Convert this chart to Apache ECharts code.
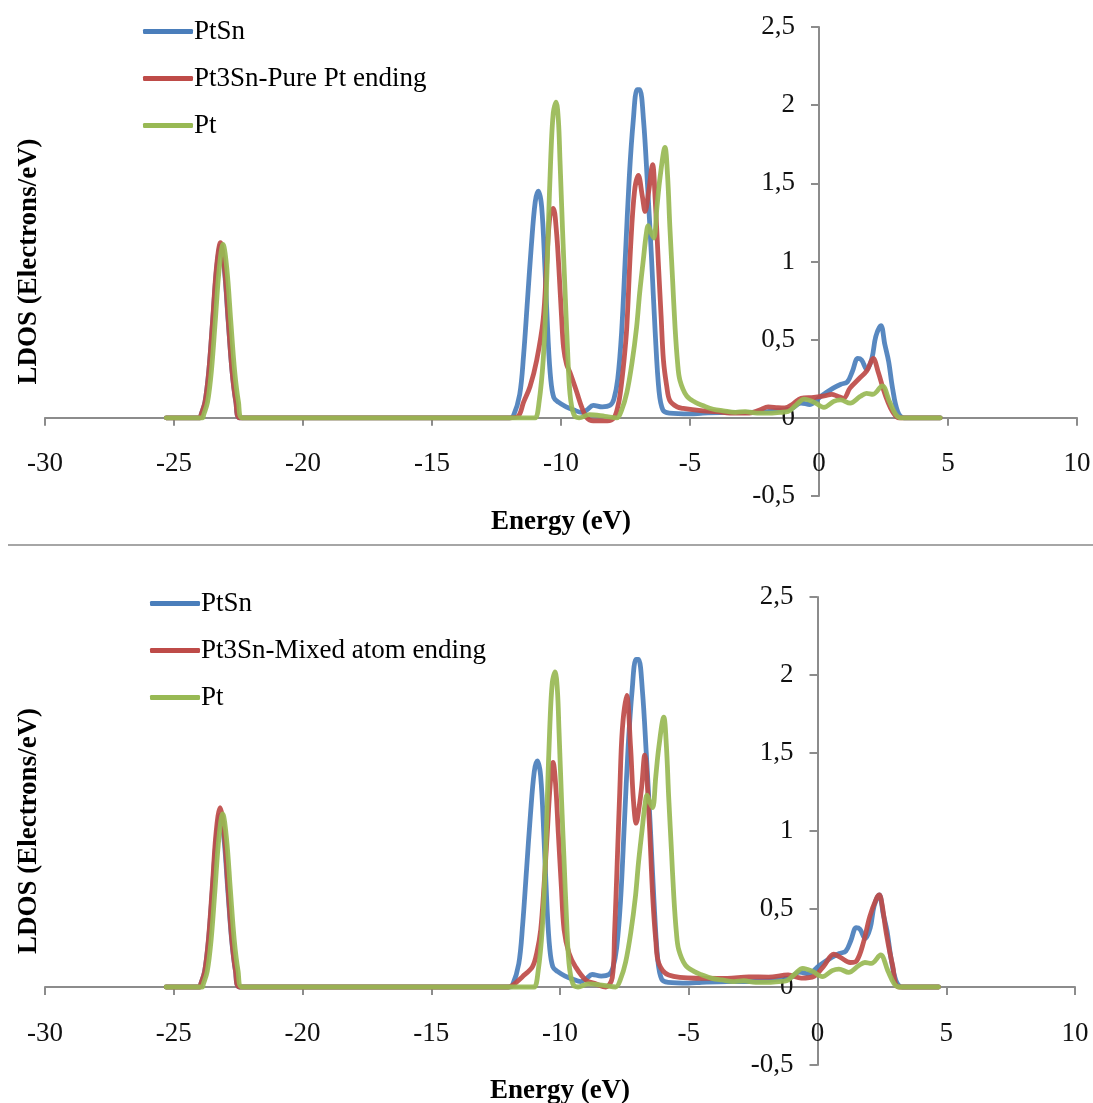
<!DOCTYPE html>
<html>
<head>
<meta charset="utf-8">
<title>LDOS PtSn / Pt3Sn / Pt</title>
<script src="https://cdn.jsdelivr.net/npm/echarts@6/dist/echarts.min.js"></script>
<style>
  html, body { margin: 0; padding: 0; background: #ffffff; }
  #chart { width: 1093px; height: 1103px; }
</style>
</head>
<body>
<div id="chart"></div>
<script>
// ---- Data: [energy (eV), LDOS (electrons/eV)] ----

// PtSn (same curve in both panels)
const ptsn = [
  [-25.3, 0], [-24.0, 0], [-23.95, 0.02], [-23.8, 0.1], [-23.65, 0.3], [-23.5, 0.62], [-23.35, 0.95],
  [-23.2, 1.1], [-23.05, 0.95], [-22.9, 0.62], [-22.75, 0.3], [-22.6, 0.1], [-22.45, 0.0],
  [-12.0, 0], [-11.85, 0.01], [-11.6, 0.15], [-11.45, 0.4], [-11.3, 0.75], [-11.15, 1.1],
  [-11.0, 1.38], [-10.88, 1.45], [-10.75, 1.35], [-10.62, 0.95], [-10.5, 0.5], [-10.4, 0.25],
  [-10.28, 0.13], [-10.1, 0.1], [-9.8, 0.07], [-9.5, 0.05], [-9.2, 0.035], [-9.0, 0.05],
  [-8.75, 0.08], [-8.4, 0.07], [-8.1, 0.08], [-7.95, 0.12], [-7.8, 0.25], [-7.65, 0.55],
  [-7.5, 1.05], [-7.35, 1.55], [-7.2, 1.9], [-7.05, 2.1], [-6.95, 2.1], [-6.8, 1.9],
  [-6.65, 1.5], [-6.5, 1.05], [-6.35, 0.55], [-6.2, 0.17], [-6.05, 0.05], [-5.8, 0.03],
  [-5.0, 0.025], [-4.5, 0.03], [-3.5, 0.035], [-2.7, 0.035], [-2.0, 0.04], [-1.5, 0.05],
  [-1.1, 0.055], [-0.7, 0.095], [-0.35, 0.085], [0.05, 0.135], [0.55, 0.19], [0.85, 0.215],
  [1.1, 0.23], [1.3, 0.3], [1.5, 0.38], [1.65, 0.37], [1.85, 0.31], [2.05, 0.38], [2.2, 0.52],
  [2.4, 0.59], [2.55, 0.47], [2.7, 0.36], [2.85, 0.19], [3.05, 0.04], [3.3, 0], [4.7, 0]
];

// Pt3Sn, pure Pt ending
const pt3snPure = [
  [-25.3, 0], [-24.0, 0], [-23.95, 0.02], [-23.8, 0.1], [-23.65, 0.3], [-23.5, 0.63], [-23.35, 0.97],
  [-23.2, 1.12], [-23.05, 0.97], [-22.9, 0.63], [-22.75, 0.3], [-22.6, 0.1], [-22.45, 0.0],
  [-12.0, 0], [-11.66, 0.01], [-11.45, 0.1], [-11.2, 0.2], [-10.94, 0.37], [-10.69, 0.63],
  [-10.55, 1.0], [-10.43, 1.29], [-10.3, 1.34], [-10.18, 1.2], [-10.08, 0.95], [-9.98, 0.65],
  [-9.9, 0.45], [-9.78, 0.34], [-9.65, 0.29], [-9.4, 0.17], [-9.2, 0.07], [-9.0, 0.0],
  [-8.75, -0.02], [-8.2, -0.02], [-7.95, 0.0], [-7.8, 0.07], [-7.7, 0.16], [-7.55, 0.38],
  [-7.45, 0.58], [-7.3, 1.1], [-7.15, 1.45], [-7.0, 1.55], [-6.85, 1.42], [-6.74, 1.32],
  [-6.6, 1.45], [-6.45, 1.62], [-6.35, 1.4], [-6.23, 1.0], [-6.12, 0.65], [-6.03, 0.37],
  [-5.9, 0.2], [-5.78, 0.11], [-5.5, 0.07], [-5.26, 0.06], [-4.5, 0.045], [-4.0, 0.04],
  [-3.24, 0.03], [-2.7, 0.03], [-2.3, 0.05], [-1.97, 0.07], [-1.6, 0.065], [-1.33, 0.063],
  [-1.0, 0.09], [-0.7, 0.125], [-0.2, 0.13], [0.2, 0.14], [0.5, 0.15], [0.7, 0.14],
  [0.95, 0.125], [1.2, 0.19], [1.55, 0.25], [1.85, 0.3], [2.1, 0.38], [2.3, 0.29],
  [2.5, 0.18], [2.65, 0.11], [2.85, 0.04], [3.1, 0], [4.7, 0]
];

// Pt3Sn, mixed atom ending
const pt3snMixed = [
  [-25.3, 0], [-24.0, 0], [-23.95, 0.02], [-23.8, 0.1], [-23.65, 0.31], [-23.5, 0.65], [-23.35, 1.0],
  [-23.2, 1.15], [-23.05, 1.0], [-22.9, 0.65], [-22.75, 0.31], [-22.6, 0.1], [-22.45, 0.0],
  [-12.0, 0], [-11.85, 0.01], [-11.46, 0.066], [-11.07, 0.13], [-10.9, 0.22], [-10.75, 0.365],
  [-10.62, 0.65], [-10.49, 1.0], [-10.38, 1.3], [-10.27, 1.44], [-10.17, 1.3], [-10.07, 1.0],
  [-9.95, 0.65], [-9.84, 0.365], [-9.65, 0.216], [-9.4, 0.13], [-9.0, 0.045], [-8.61, 0.02],
  [-8.22, 0.0], [-7.97, 0.06], [-7.88, 0.35], [-7.78, 0.79], [-7.68, 1.25], [-7.58, 1.65],
  [-7.41, 1.87], [-7.26, 1.54], [-7.15, 1.2], [-7.04, 1.05], [-6.93, 1.15], [-6.83, 1.28],
  [-6.71, 1.487], [-6.55, 1.11], [-6.4, 0.58], [-6.28, 0.3], [-6.16, 0.15], [-5.78, 0.077],
  [-4.61, 0.056], [-3.5, 0.055], [-2.67, 0.065], [-1.9, 0.063], [-1.14, 0.078], [-0.63, 0.057],
  [-0.13, 0.069], [0.25, 0.136], [0.63, 0.21], [0.89, 0.19], [1.27, 0.157], [1.52, 0.168],
  [1.78, 0.283], [2.03, 0.451], [2.29, 0.567], [2.4, 0.59], [2.5, 0.535], [2.67, 0.346],
  [2.92, 0.136], [3.17, 0], [4.7, 0]
];

// Pt (same curve in both panels)
const pt = [
  [-25.3, 0], [-23.9, 0], [-23.85, 0.02], [-23.7, 0.1], [-23.55, 0.3], [-23.4, 0.62], [-23.25, 0.95],
  [-23.1, 1.11], [-22.95, 0.95], [-22.8, 0.62], [-22.65, 0.3], [-22.5, 0.1], [-22.35, 0.0],
  [-11.2, 0], [-11.0, 0.0], [-10.85, 0.1], [-10.69, 0.37], [-10.58, 0.75], [-10.49, 1.22],
  [-10.4, 1.65], [-10.3, 1.95], [-10.19, 2.02], [-10.1, 1.9], [-10.04, 1.65], [-9.94, 1.2],
  [-9.84, 0.8], [-9.75, 0.45], [-9.65, 0.15], [-9.5, 0.02], [-9.3, 0.0], [-8.9, 0.02],
  [-8.3, 0.01], [-7.84, 0.0], [-7.65, 0.05], [-7.45, 0.16], [-7.25, 0.35], [-7.07, 0.58],
  [-6.95, 0.8], [-6.81, 1.01], [-6.7, 1.17], [-6.62, 1.23], [-6.5, 1.18], [-6.4, 1.15],
  [-6.28, 1.35], [-6.16, 1.54], [-5.97, 1.73], [-5.87, 1.55], [-5.78, 1.22], [-5.68, 0.9],
  [-5.58, 0.58], [-5.48, 0.35], [-5.39, 0.24], [-5.13, 0.14], [-4.8, 0.1], [-4.48, 0.077],
  [-4.1, 0.055], [-3.71, 0.045], [-3.24, 0.035], [-2.86, 0.04], [-2.4, 0.03], [-1.97, 0.03],
  [-1.5, 0.035], [-1.2, 0.04], [-0.9, 0.08], [-0.57, 0.12], [-0.19, 0.1], [0.19, 0.067],
  [0.57, 0.105], [0.83, 0.115], [1.21, 0.094], [1.59, 0.136], [1.84, 0.157], [2.09, 0.151],
  [2.45, 0.205], [2.73, 0.105], [2.98, 0.02], [3.17, 0], [4.7, 0]
];

// Series names per panel
const topNames = ['PtSn', 'Pt3Sn-Pure Pt ending', 'Pt'];
const bottomNames = ['PtSn', 'Pt3Sn-Mixed atom ending', 'Pt'];

// Axis settings
const energyRange = [-30, 10];
const energyStep = 5;
const ldosRange = [-0.5, 2.5];
const ldosStep = 0.5;

const colors = ['#4a7ebb', '#be4b48', '#98b954'];
const FONT = 'Liberation Serif';
const AXIS_GRAY = '#8c8c8c';

// Panel geometry: plot box and where the crossing axes sit inside it
const panels = [
  { left: 45, right: 16, top: 27, height: 469 },
  { left: 45, right: 18, top: 597, height: 468 }
];
const CHART_W = 1093;

// distance (px) from the grid bottom edge up to LDOS = 0
function zeroRowOffset(p) {
  return p.height * (0 - ldosRange[0]) / (ldosRange[1] - ldosRange[0]);
}
// distance (px) from the grid left edge across to E = 0
function zeroColOffset(p) {
  const w = CHART_W - p.left - p.right;
  return w * (0 - energyRange[0]) / (energyRange[1] - energyRange[0]);
}

function xAxisFor(gridIndex) {
  const p = panels[gridIndex];
  return {
    type: 'value', gridIndex,
    min: energyRange[0], max: energyRange[1], interval: energyStep,
    position: 'bottom', offset: -zeroRowOffset(p),
    name: 'Energy (eV)', nameLocation: 'middle', nameGap: 91,
    nameTextStyle: { fontFamily: FONT, fontSize: 27, fontWeight: 'bold', color: '#000' },
    axisLine: { onZero: false, lineStyle: { color: AXIS_GRAY, width: 2 } },
    axisTick: { show: true, length: 8, lineStyle: { color: AXIS_GRAY, width: 2 } },
    axisLabel: { margin: 33, fontFamily: FONT, fontSize: 27, color: '#111', hideOverlap: false },
    splitLine: { show: false }
  };
}

function yAxisFor(gridIndex) {
  const p = panels[gridIndex];
  const off = zeroColOffset(p);
  return {
    type: 'value', gridIndex,
    min: ldosRange[0], max: ldosRange[1], interval: ldosStep,
    position: 'left', offset: -off,
    name: 'LDOS (Electrons/eV)', nameLocation: 'middle', nameGap: off + 2,
    nameTextStyle: { fontFamily: FONT, fontSize: 27, fontWeight: 'bold', color: '#000' },
    axisLine: { show: true, onZero: false, lineStyle: { color: AXIS_GRAY, width: 2 } },
    axisTick: { show: true, length: 8, lineStyle: { color: AXIS_GRAY, width: 2 } },
    axisLabel: {
      margin: 24, fontFamily: FONT, fontSize: 27, color: '#111',
      formatter: v => String(v).replace('.', ',')
    },
    splitLine: { show: false }
  };
}

function lineSeries(name, data, idx, gridIndex) {
  return {
    type: 'line', name, data,
    xAxisIndex: gridIndex, yAxisIndex: gridIndex,
    showSymbol: false, symbol: 'none',
    smooth: 0.35,
    lineStyle: { color: colors[idx], width: 4.8, cap: 'round', join: 'round', opacity: 0.92 },
    itemStyle: { color: colors[idx] },
    z: 2 + idx
  };
}

function legendFor(names, left, top) {
  return {
    orient: 'vertical', left, top, padding: 0,
    data: names.map(n => ({ name: n })),
    icon: 'roundRect', itemWidth: 50, itemHeight: 5, itemGap: 20,
    textStyle: { fontFamily: FONT, fontSize: 27, lineHeight: 27, color: '#000', padding: [0, 0, 0, -4] },
    selectedMode: false
  };
}

const chart = echarts.init(document.getElementById('chart'), null, { renderer: 'canvas' });

const topSeries = [ptsn, pt3snPure, pt];
const bottomSeries = [ptsn, pt3snMixed, pt];

chart.setOption({
  animation: false,
  backgroundColor: '#ffffff',
  grid: panels.map(p => Object.assign({ containLabel: false, outerBoundsMode: 'none' }, p)),
  legend: [
    legendFor(topNames, 143, 18),
    legendFor(bottomNames, 150, 590)
  ],
  xAxis: [xAxisFor(0), xAxisFor(1)],
  yAxis: [yAxisFor(0), yAxisFor(1)],
  series: [
    ...topSeries.map((d, i) => lineSeries(topNames[i], d, i, 0)),
    ...bottomSeries.map((d, i) => lineSeries(bottomNames[i], d, i, 1))
  ],
  graphic: [{
    type: 'line',
    shape: { x1: 8, y1: 545, x2: 1093, y2: 545 },
    style: { stroke: '#a6a6a6', lineWidth: 2 }
  }]
});
</script>
</body>
</html>
